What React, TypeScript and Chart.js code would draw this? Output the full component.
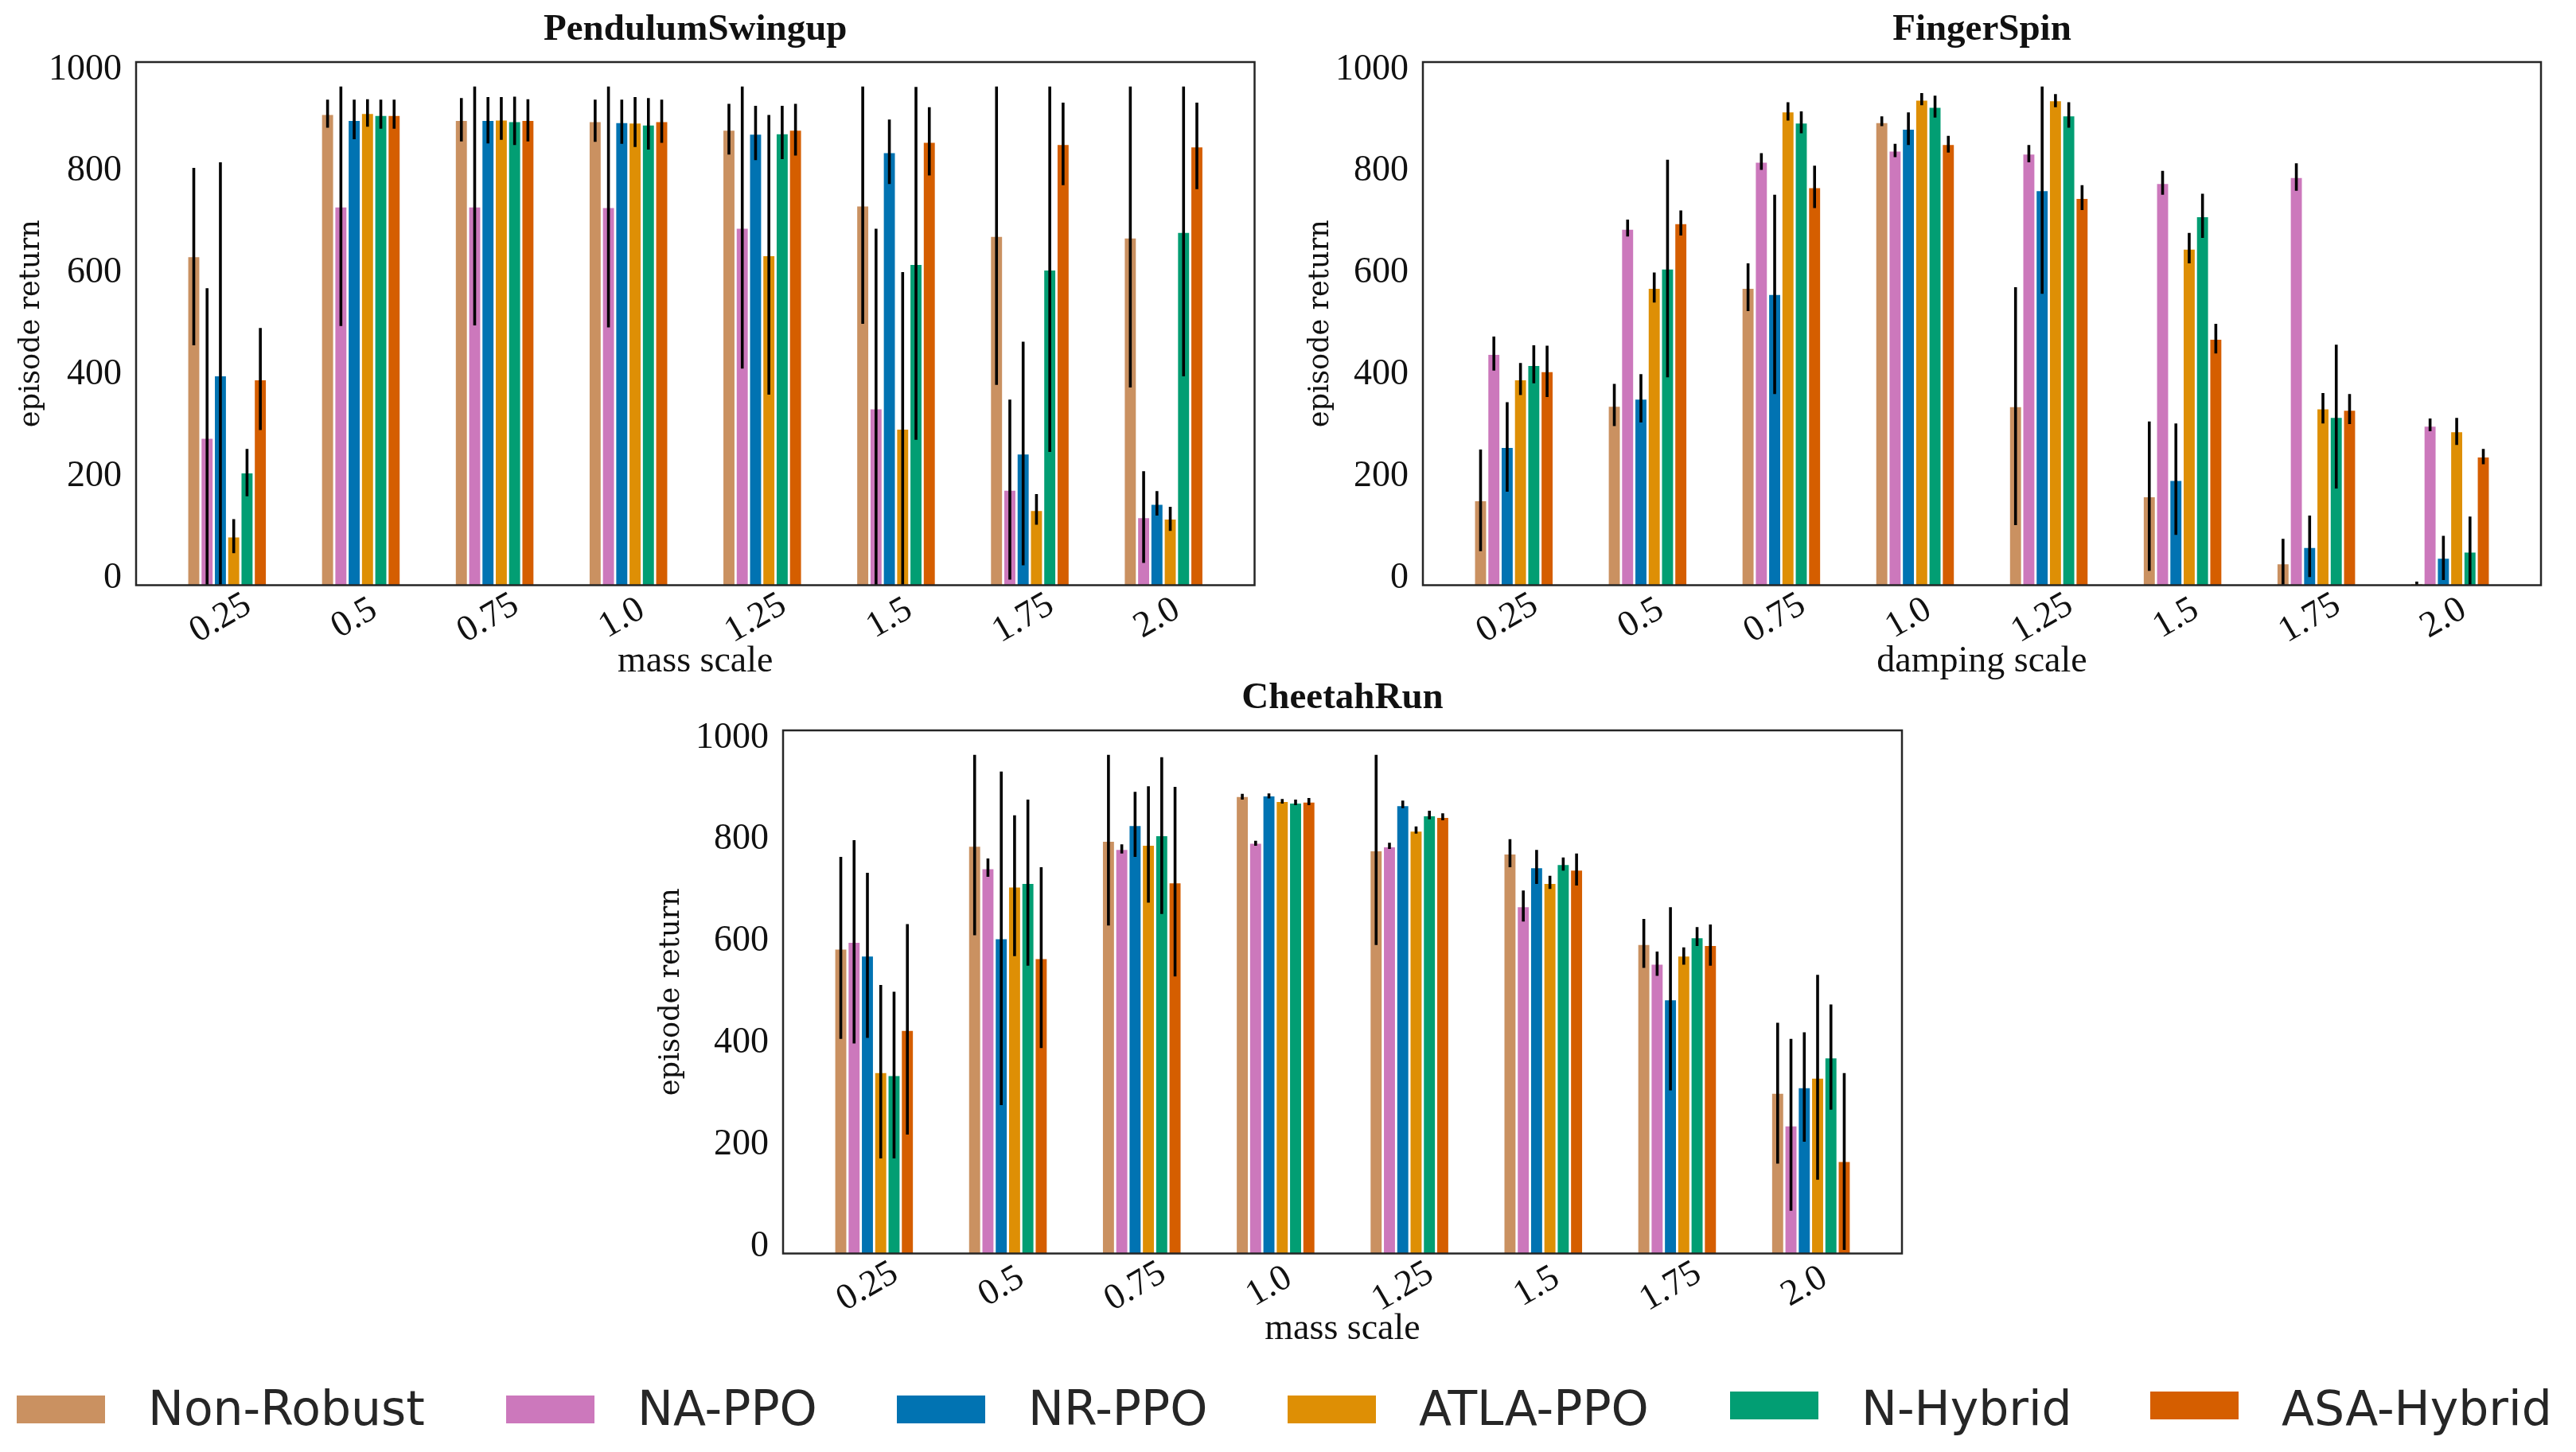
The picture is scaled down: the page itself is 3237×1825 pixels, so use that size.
import React, { useEffect, useRef } from 'react';
import { Chart, registerables } from 'chart.js';

Chart.register(...registerables);

// methods compared in every panel
const methods = ['Non-Robust', 'NA-PPO', 'NR-PPO', 'ATLA-PPO', 'N-Hybrid', 'ASA-Hybrid'];
const scaleLabels = ['0.25', '0.5', '0.75', '1.0', '1.25', '1.5', '1.75', '2.0'];
const returnTicks = [0, 200, 400, 600, 800, 1000];

// PendulumSwingup (rows follow `methods`, columns follow `scaleLabels`)
const pendulumMean = [
  [645, 925, 913, 911, 894, 745, 685, 682],
  [288, 743, 743, 742, 701, 346, 186, 132],
  [411, 913, 913, 909, 886, 850, 257, 158],
  [94, 927, 914, 908, 647, 306, 146, 129],
  [220, 923, 911, 904, 887, 630, 619, 693],
  [403, 923, 913, 911, 894, 870, 866, 861],
];
const pendulumLow = [
  [472, 900, 873, 872, 847, 514, 394, 389],
  [0, 510, 511, 507, 426, 0, 11, 44],
  [0, 877, 869, 868, 836, 789, 39, 137],
  [63, 902, 876, 862, 375, 0, 119, 107],
  [175, 898, 866, 857, 838, 286, 262, 411],
  [305, 898, 873, 870, 845, 806, 787, 779],
];
const pendulumHigh = [
  [821, 955, 958, 955, 947, 981, 981, 981],
  [584, 981, 981, 981, 981, 701, 365, 224],
  [832, 955, 960, 955, 943, 916, 479, 185],
  [130, 956, 960, 960, 925, 616, 179, 154],
  [268, 955, 961, 958, 943, 980, 981, 981],
  [506, 955, 956, 955, 947, 940, 949, 949],
];

// FingerSpin
const fingerMean = [
  [165, 351, 583, 909, 350, 173, 41, 2],
  [453, 699, 831, 853, 847, 789, 801, 312],
  [270, 365, 571, 896, 775, 205, 73, 52],
  [403, 583, 930, 953, 952, 660, 346, 301],
  [431, 621, 908, 939, 922, 724, 329, 64],
  [419, 710, 781, 866, 760, 483, 343, 251],
];
const fingerLow = [
  [67, 313, 539, 903, 118, 28, 0, 0],
  [422, 686, 817, 842, 832, 768, 776, 303],
  [184, 320, 376, 866, 573, 99, 16, 10],
  [374, 556, 914, 944, 940, 633, 318, 276],
  [397, 409, 889, 920, 900, 683, 190, 0],
  [370, 688, 742, 851, 738, 456, 317, 238],
];
const fingerHigh = [
  [267, 396, 633, 922, 586, 322, 91, 7],
  [489, 719, 850, 868, 866, 815, 830, 328],
  [360, 415, 768, 930, 981, 318, 137, 97],
  [437, 615, 950, 968, 966, 693, 378, 329],
  [472, 837, 932, 963, 950, 770, 473, 135],
  [471, 737, 825, 884, 787, 514, 376, 268],
];

// CheetahRun
const cheetahMean = [
  [598, 800, 810, 898, 791, 785, 607, 314],
  [611, 756, 794, 806, 799, 681, 568, 250],
  [584, 618, 841, 899, 880, 758, 498, 325],
  [355, 720, 802, 888, 830, 727, 584, 344],
  [349, 727, 821, 885, 860, 764, 620, 384],
  [438, 579, 728, 887, 857, 753, 605, 180],
];
const cheetahLow = [
  [422, 626, 645, 893, 607, 760, 562, 177],
  [413, 741, 787, 802, 796, 653, 546, 84],
  [424, 292, 780, 895, 876, 727, 321, 220],
  [187, 585, 690, 885, 826, 717, 568, 145],
  [187, 566, 668, 882, 854, 753, 605, 283],
  [234, 404, 545, 882, 852, 724, 566, 7],
];
const cheetahHigh = [
  [780, 981, 981, 904, 981, 815, 658, 454],
  [813, 777, 805, 812, 808, 714, 594, 422],
  [749, 948, 908, 905, 891, 794, 681, 435],
  [528, 862, 919, 894, 840, 743, 602, 548],
  [515, 893, 976, 893, 871, 779, 642, 490],
  [648, 760, 918, 896, 866, 787, 647, 355],
];

const palette = ['#CA9161', '#CC78BC', '#0173B2', '#DE8F05', '#029E73', '#D55E00'];
const SERIF = "'Liberation Serif', 'Times New Roman', serif";
const TEXT = '#111111';

interface PanelProps {
  title: string;
  xLabel: string;
  mean: number[][];
  low: number[][];
  high: number[][];
  left: number;
  top: number;
  width: number;
  height: number;
  yAxisWidth: number;
  padRight: number;
  yTitlePad: number;
  xTitlePad: number;
}

const X_AXIS_HEIGHT = 124.5;

const BarPanel: React.FC<PanelProps> = (p) => {
  const canvasRef = useRef<HTMLCanvasElement | null>(null);

  useEffect(() => {
    if (!canvasRef.current) return;
    const ctx = canvasRef.current.getContext('2d');
    if (!ctx) return;

    // error bars, axes frame and rotated category labels
    const overlay = {
      id: 'overlay',
      afterDatasetsDraw(chart: any) {
        const { ctx: c, chartArea: a, scales } = chart;
        const y = scales.y;
        const x = scales.x;

        c.save();
        c.beginPath();
        c.rect(a.left, a.top, a.right - a.left, a.bottom - a.top);
        c.clip();
        c.strokeStyle = '#000000';
        c.lineWidth = 3.6;
        c.lineCap = 'butt';
        p.low.forEach((row, d) => {
          const meta = chart.getDatasetMeta(d);
          row.forEach((lo, i) => {
            const bar = meta.data[i];
            if (!bar) return;
            c.beginPath();
            c.moveTo(bar.x, y.getPixelForValue(lo));
            c.lineTo(bar.x, y.getPixelForValue(p.high[d][i]));
            c.stroke();
          });
        });
        c.restore();

        c.save();
        c.strokeStyle = '#262626';
        c.lineWidth = 2.5;
        c.strokeRect(a.left, a.top, a.right - a.left, a.bottom - a.top);
        c.restore();

        c.save();
        c.fillStyle = TEXT;
        c.font = `46px ${SERIF}`;
        c.textAlign = 'center';
        c.textBaseline = 'middle';
        scaleLabels.forEach((lab, i) => {
          c.save();
          c.translate(x.getPixelForValue(i) - 8, a.bottom + 42);
          c.rotate((-30 * Math.PI) / 180);
          c.fillText(lab, 0, 0);
          c.restore();
        });
        c.restore();
      },
    };

    const chart = new Chart(ctx, {
      type: 'bar',
      data: {
        datasets: methods.map((m, d) => ({
          label: m,
          data: p.mean[d].map((v, i) => ({ x: i, y: v })),
          backgroundColor: palette[d],
          borderWidth: 0,
          barPercentage: 0.83,
          categoryPercentage: 0.597,
        })),
      },
      options: {
        animation: false,
        responsive: true,
        maintainAspectRatio: false,
        events: [],
        layout: { padding: { left: 0, right: p.padRight, top: 0, bottom: 0 } },
        plugins: {
          legend: { display: false },
          tooltip: { enabled: false },
          title: {
            display: true,
            text: p.title,
            fullSize: false,
            color: TEXT,
            font: { family: SERIF, size: 47, weight: 'bold' },
            padding: { top: 9.8, bottom: 11.8 },
          },
        },
        scales: {
          x: {
            type: 'linear',
            min: -0.68,
            max: 7.68,
            offset: false,
            grid: { display: false, drawTicks: false },
            border: { display: false },
            ticks: { display: false },
            afterBuildTicks: (scale: any) => {
              scale.ticks = scaleLabels.map((_, i) => ({ value: i }));
            },
            title: {
              display: true,
              text: p.xLabel,
              color: TEXT,
              font: { family: SERIF, size: 46 },
              padding: { top: 0, bottom: p.xTitlePad },
            },
            afterFit: (scale: any) => {
              scale.height = X_AXIS_HEIGHT;
            },
          },
          y: {
            min: 0,
            max: 1029,
            grid: { display: false, drawTicks: false },
            border: { display: false },
            afterBuildTicks: (scale: any) => {
              scale.ticks = returnTicks.map((v) => ({ value: v }));
            },
            ticks: {
              padding: 18,
              labelOffset: -9,
              color: TEXT,
              font: { family: SERIF, size: 46 },
              callback: (v: any) => String(v),
            },
            title: {
              display: true,
              text: 'episode return',
              color: TEXT,
              font: { family: "'DejaVu Serif', serif", size: 35 },
              padding: { top: p.yTitlePad, bottom: 0 },
            },
            afterFit: (scale: any) => {
              scale.width = p.yAxisWidth;
            },
          },
        },
      } as any,
      plugins: [overlay],
    });

    return () => {
      chart.destroy();
    };
  }, [p]);

  return (
    <div style={{ position: 'absolute', left: p.left, top: p.top, width: p.width, height: p.height }}>
      <canvas ref={canvasRef} />
    </div>
  );
};

// legend placement (patch left edge, patch top)
const legendLeft = [21, 636, 1127, 1618, 2174, 2702];
const legendTop = [1754, 1754, 1754, 1754, 1749, 1749];

const panels: PanelProps[] = [
  {
    title: 'PendulumSwingup', xLabel: 'mass scale',
    mean: pendulumMean, low: pendulumLow, high: pendulumHigh,
    left: 0, top: 0, width: 1617, height: 860,
    yAxisWidth: 171, padRight: 40.5, yTitlePad: 19, xTitlePad: 0,
  },
  {
    title: 'FingerSpin', xLabel: 'damping scale',
    mean: fingerMean, low: fingerLow, high: fingerHigh,
    left: 1617, top: 0, width: 1620, height: 860,
    yAxisWidth: 171, padRight: 44, yTitlePad: 22, xTitlePad: 0,
  },
  {
    title: 'CheetahRun', xLabel: 'mass scale',
    mean: cheetahMean, low: cheetahLow, high: cheetahHigh,
    left: 784, top: 840, width: 1646, height: 860,
    yAxisWidth: 200, padRight: 40, yTitlePad: 38.5, xTitlePad: 1.8,
  },
];

export default function App() {
  return (
    <div style={{ position: 'fixed', left: 0, top: 0, width: 3237, height: 1825, background: '#ffffff', overflow: 'hidden' }}>
      {panels.map((pp) => (
        <BarPanel key={pp.title} {...pp} />
      ))}
      {methods.map((m, i) => (
        <React.Fragment key={m}>
          <div
            style={{
              position: 'absolute',
              left: legendLeft[i],
              top: legendTop[i],
              width: 111,
              height: 35,
              background: palette[i],
            }}
          />
          <div
            style={{
              position: 'absolute',
              left: legendLeft[i] + 165,
              top: 1740,
              height: 60,
              lineHeight: '60px',
              fontFamily: "'DejaVu Sans', sans-serif",
              fontSize: 60,
              color: '#262626',
              whiteSpace: 'nowrap',
            }}
          >
            {m}
          </div>
        </React.Fragment>
      ))}
    </div>
  );
}
